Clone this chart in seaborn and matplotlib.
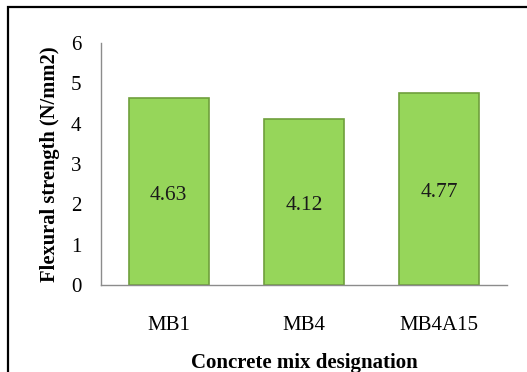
import matplotlib
matplotlib.use("Agg")
import matplotlib.pyplot as plt
import matplotlib.transforms as mtransforms
import seaborn as sns
import pandas as pd
from matplotlib.patches import Rectangle

mixes = ["MB1", "MB4", "MB4A15"]
strength = [4.63, 4.12, 4.77]
y_ticks = [0, 1, 2, 3, 4, 5, 6]

sns.set_theme(style="white")
plt.rcParams["font.family"] = ["Liberation Serif", "DejaVu Serif"]

df = pd.DataFrame({"mix": mixes, "strength": strength})

fig = plt.figure(figsize=(5.27, 3.72), dpi=100)
ax = fig.add_axes([101 / 527, 1 - 285 / 372, 406 / 527, 242 / 372])

sns.barplot(data=df, x="mix", y="strength", ax=ax, color="#96D65A",
            saturation=1, width=0.59, edgecolor="#6F9F3C", linewidth=1.2)

shift = mtransforms.ScaledTranslation(0, -4 / 100, fig.dpi_scale_trans)
for i, v in enumerate(strength):
    ax.text(i, v / 2, f"{v:.2f}", ha="center", va="center", fontsize=15.5,
            color="#1a1a1a", transform=ax.transData + shift)

ax.set_ylim(0, 6)
ax.set_yticks(y_ticks)
ax.set_yticklabels([str(t) for t in y_ticks], fontsize=15)
ax.tick_params(axis="y", length=0, pad=14)
ax.tick_params(axis="x", length=0, pad=22, labelsize=15)
for lab in ax.get_xticklabels() + ax.get_yticklabels():
    lab.set_color("black")

ax.set_xlabel("Concrete mix designation", fontsize=15, fontweight="bold",
              labelpad=13, color="black")
ax.set_ylabel("Flexural strength (N/mm2)", fontsize=14.8, fontweight="bold",
              labelpad=8, color="black")

for s in ["top", "right"]:
    ax.spines[s].set_visible(False)
for s in ["left", "bottom"]:
    ax.spines[s].set_color("#8C8C8C")
    ax.spines[s].set_linewidth(1.0)

fig.patches.append(Rectangle((7.5 / 527, -0.1), 1.2, 1.1 - 6.5 / 372,
                             transform=fig.transFigure, fill=False,
                             edgecolor="black", linewidth=1.6, clip_on=False))

fig.savefig("out.png", dpi=100)
